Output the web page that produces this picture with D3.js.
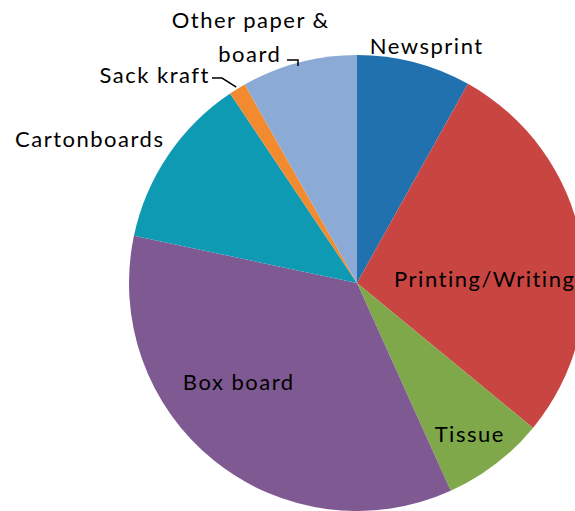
<!DOCTYPE html>
<html>
<head>
<meta charset="utf-8">
<script src="https://cdn.jsdelivr.net/npm/d3@7"></script>
<style>
  body { margin: 0; background: #fff; }
  svg { display: block; }
  text { font-family: Lato, "Open Sans", sans-serif; fill: #000; }
</style>
</head>
<body>
<div id="chart"></div>
<script>
var categories = ['Newsprint', 'Printing/Writing', 'Tissue', 'Box board', 'Cartonboards', 'Sack kraft', 'Other paper & board'];
var shares = [8.1, 27.9, 7.3, 35.1, 12.3, 1.2, 8.2];
var colors = ['#2071AE', '#C84542', '#7EA84A', '#7F5A92', '#0F9AB4', '#F28B30', '#8BAAD6'];

var width = 575, height = 511;
var cx = 357, cy = 283, radius = 228;

// label text lines and where they go (x = centre, y = baseline)
var labelLines = [
  [{t: 'Newsprint', x: 426, y: 54}],
  [{t: 'Printing/Writing', x: 484, y: 287}],
  [{t: 'Tissue', x: 469, y: 442}],
  [{t: 'Box board', x: 238, y: 390}],
  [{t: 'Cartonboards', x: 89, y: 147}],
  [{t: 'Sack kraft', x: 154, y: 83}],
  [{t: 'Other paper &', x: 250, y: 28}, {t: 'board', x: 249, y: 62}]
];

var svg = d3.select('#chart').append('svg')
  .attr('width', width)
  .attr('height', height);

var g = svg.append('g')
  .attr('transform', 'translate(' + cx + ',' + cy + ')');

var pie = d3.pie().value(function(d) { return d; }).sort(null);
var arc = d3.arc().innerRadius(0).outerRadius(radius);

g.selectAll('path')
  .data(pie(shares))
  .enter()
  .append('path')
  .attr('d', arc)
  .attr('fill', function(d, i) { return colors[i]; });

// leader lines for the two small slices
var arcs = pie(shares);
function edgePoint(d, r) {
  var a = (d.startAngle + d.endAngle) / 2;
  return [cx + Math.sin(a) * r, cy - Math.cos(a) * r];
}
var sk = edgePoint(arcs[5], radius + 2);
svg.append('path')
  .attr('d', 'M212,78 L222,78 L' + sk[0] + ',' + sk[1])
  .attr('fill', 'none').attr('stroke', '#000').attr('stroke-width', 1.5);
svg.append('path')
  .attr('d', 'M287,60 L298,60 L298,66')
  .attr('fill', 'none').attr('stroke', '#000').attr('stroke-width', 1.5);

var ls = 1.5;
labelLines.forEach(function(lines) {
  lines.forEach(function(l) {
    svg.append('text')
      .attr('x', l.x + ls / 2)
      .attr('y', l.y)
      .attr('text-anchor', 'middle')
      .style('font-size', '22px')
      .style('letter-spacing', ls + 'px')
      .text(l.t);
  });
});
</script>
</body>
</html>
